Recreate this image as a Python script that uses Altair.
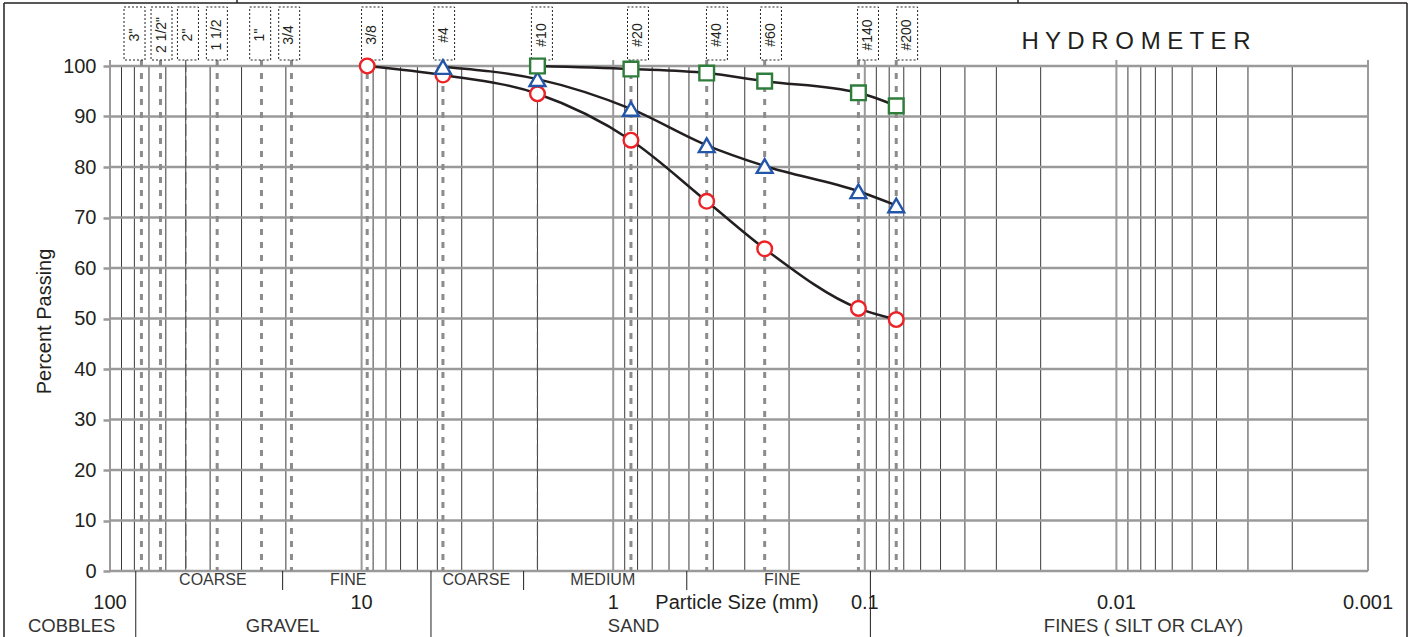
import altair as alt
import pandas as pd

# ---------------- data ----------------
sieve_labels = ['3"', '2 1/2"', '2"', '1 1/2', '1"', '3/4', '3/8', '#4', '#10', '#20', '#40', '#60', '#140', '#200']
sieve_mm = [75, 63, 50, 37.5, 25, 19, 9.5, 4.75, 2.0, 0.85, 0.425, 0.25, 0.106, 0.075]
# where each sieve's label box sits (mm), as drawn in the original
box_mm = [79.9, 62.4, 49.0, 37.6, 25.3, 19.4, 9.09, 4.70, 1.92, 0.797, 0.387, 0.236, 0.0971, 0.0679]

red_mm = [9.5, 4.75, 2.0, 0.85, 0.425, 0.25, 0.106, 0.075]
red_pct = [100, 98.2, 94.5, 85.3, 73.2, 63.8, 52.0, 49.8]
blue_mm = [4.75, 2.0, 0.85, 0.425, 0.25, 0.106, 0.075]
blue_pct = [99.8, 97.4, 91.5, 84.3, 80.2, 75.2, 72.4]
green_mm = [2.0, 0.85, 0.425, 0.25, 0.106, 0.075]
green_pct = [100, 99.4, 98.6, 97.0, 94.7, 92.1]

tick_mm = [100, 10, 1, 0.1, 0.01, 0.001]
tick_text = ["100", "10", "1", "0.1", "0.01", "0.001"]
pct_ticks = list(range(0, 101, 10))

decade_mm = [100, 10, 1, 0.1, 0.01, 0.001]
minor_mm = [m * 10.0 ** e for e in range(-3, 2) for m in range(2, 10)]

sub_labels = ["COARSE", "FINE", "COARSE", "MEDIUM", "FINE"]
sub_mm = [39, 11.3, 3.5, 1.1, 0.213]
main_labels = ["COBBLES", "GRAVEL", "SAND", "FINES ( SILT OR CLAY)"]
main_mm = [142, 20.6, 0.83, 0.0078]
major_bounds = [79, 5.3, 0.095]
minor_bounds = [20.6, 2.27, 0.51]

# ---------------- settings ----------------
W, H = 1258, 505
FONT = "Liberation Sans"
TXT = "#231f20"
xs = alt.Scale(type="log", domain=[0.001, 100], reverse=True, nice=False)
ys = alt.Scale(domain=[0, 100], nice=False, zero=False)

yaxis = alt.Axis(values=pct_ticks, labelFontSize=20, labelFont=FONT, labelColor=TXT,
                 labelPadding=7, tickColor="#9a9a9a", tickSize=7, tickWidth=2.5,
                 domain=False, grid=False, title="Percent Passing", titleFont=FONT,
                 titleFontSize=20, titleFontWeight="normal", titleColor=TXT,
                 titleX=-60, titleY=255, titleAngle=270, titleBaseline="alphabetic",
                 titleAlign="center")

X = lambda f="mm": alt.X(f"{f}:Q", scale=xs, axis=None)
one = pd.DataFrame({"a": [0]})

layers = []

# vertical grid (minor)
layers.append(alt.Chart(pd.DataFrame({"mm": minor_mm})).mark_rule(color="#3a3a3a", strokeWidth=1).encode(
    x=X(), y=alt.value(0), y2=alt.value(H)))
# decade lines
layers.append(alt.Chart(pd.DataFrame({"mm": decade_mm})).mark_rule(color="#9a9a9a", strokeWidth=2).encode(
    x=X(), y=alt.value(-6), y2=alt.value(H)))
# horizontal grid + y axis
layers.append(alt.Chart(pd.DataFrame({"pct": pct_ticks})).mark_rule(color="#9a9a9a", strokeWidth=2.5).encode(
    y=alt.Y("pct:Q", scale=ys, axis=yaxis), x=alt.value(0), x2=alt.value(W)))

# sieve lines
sieve_df = pd.DataFrame({"mm": sieve_mm, "box": box_mm, "label": sieve_labels})
thin_set = ['2"', '#10']
layers.append(alt.Chart(sieve_df[~sieve_df.label.isin(thin_set)]).mark_rule(
    color="#8c8c8c", strokeWidth=3, strokeDash=[6, 7]).encode(x=X(), y=alt.value(-6), y2=alt.value(H)))
layers.append(alt.Chart(sieve_df[sieve_df.label.isin(thin_set)]).mark_rule(
    color="#555555", strokeWidth=1.2, strokeDash=[12, 4]).encode(x=X(), y=alt.value(-6), y2=alt.value(H)))

# sieve label boxes
box_path = "M-0.396,-1L0.396,-1L0.396,1L-0.396,1Z"
layers.append(alt.Chart(sieve_df).mark_point(shape=box_path, size=53 * 53, filled=False, stroke="#222",
                                             strokeWidth=1, strokeDash=[2, 2], opacity=1).encode(
    x=X("box"), y=alt.value(-32.5)))
layers.append(alt.Chart(sieve_df).mark_text(angle=270, fontSize=14, font=FONT, color=TXT, align="center",
                                            baseline="middle").encode(
    x=X("box"), y=alt.value(-31), text="label:N"))

# series
series_df = pd.concat([
    pd.DataFrame({"mm": red_mm, "pct": red_pct, "series": "red"}),
    pd.DataFrame({"mm": blue_mm, "pct": blue_pct, "series": "blue"}),
    pd.DataFrame({"mm": green_mm, "pct": green_pct, "series": "green"}),
])
Y = lambda: alt.Y("pct:Q", scale=ys, axis=yaxis)
layers.append(alt.Chart(series_df).mark_line(color="#231f20", strokeWidth=2.5, interpolate="monotone").encode(
    x=X(), y=Y(), detail="series:N", order=alt.Order("mm:Q", sort="descending")))

def pts(name, shape, color, size):
    return alt.Chart(series_df[series_df.series == name]).mark_point(
        shape=shape, filled=True, fill="white", stroke=color, strokeWidth=2.4, size=size, opacity=1).encode(
        x=X(), y=Y())

layers.append(pts("red", "circle", "#ec2227", 215))
layers.append(pts("blue", "triangle-up", "#2356a8", 250))
layers.append(pts("green", "square", "#2f7d3b", 215))

# bottom classification
layers.append(alt.Chart(pd.DataFrame({"mm": major_bounds})).mark_rule(color="#231f20", strokeWidth=1).encode(
    x=X(), y=alt.value(H), y2=alt.value(571)))
layers.append(alt.Chart(pd.DataFrame({"mm": minor_bounds})).mark_rule(color="#231f20", strokeWidth=1).encode(
    x=X(), y=alt.value(H), y2=alt.value(524)))
layers.append(alt.Chart(pd.DataFrame({"mm": sub_mm, "t": sub_labels})).mark_text(
    fontSize=16, font=FONT, color="#383838", align="center", baseline="middle").encode(
    x=X(), y=alt.value(514), text="t:N"))
layers.append(alt.Chart(pd.DataFrame({"mm": tick_mm, "t": tick_text})).mark_text(
    fontSize=20, font=FONT, color=TXT, align="center", baseline="middle").encode(
    x=X(), y=alt.value(537), text="t:N"))
layers.append(alt.Chart(pd.DataFrame({"mm": main_mm, "t": main_labels})).mark_text(
    fontSize=18.5, font=FONT, color="#333333", align="center", baseline="middle").encode(
    x=X(), y=alt.value(560), text="t:N"))
layers.append(alt.Chart(one).mark_text(fontSize=20, font=FONT, color=TXT, align="center", baseline="middle",
                                       text="Particle Size (mm)").encode(x=alt.value(627), y=alt.value(537)))
layers.append(alt.Chart(one).mark_text(fontSize=24, font=FONT, color=TXT, align="center", baseline="middle",
                                       text="H Y D R O M E T E R").encode(x=alt.value(1026), y=alt.value(-24)))

# frame
def vrule(x, y1, y2, w=1.5):
    return alt.Chart(one).mark_rule(color="#231f20", strokeWidth=w).encode(
        x=alt.value(x), y=alt.value(y1), y2=alt.value(y2))

layers += [
    vrule(-106, -63, 571), vrule(1297, -63, 571), vrule(127, -66, -63), vrule(908, -66, -63),
    alt.Chart(one).mark_rule(color="#231f20", strokeWidth=1.5).encode(
        y=alt.value(-63), x=alt.value(-106), x2=alt.value(1297)),
]

chart = alt.layer(*layers).properties(
    width=W, height=H,
    padding={"left": 110, "top": 66, "right": 47, "bottom": 66},
    autosize=alt.AutoSizeParams(type="none"),
    background="white",
).configure_view(stroke=None)

chart.save("out.html", embed_options={"renderer": "svg", "actions": False})
